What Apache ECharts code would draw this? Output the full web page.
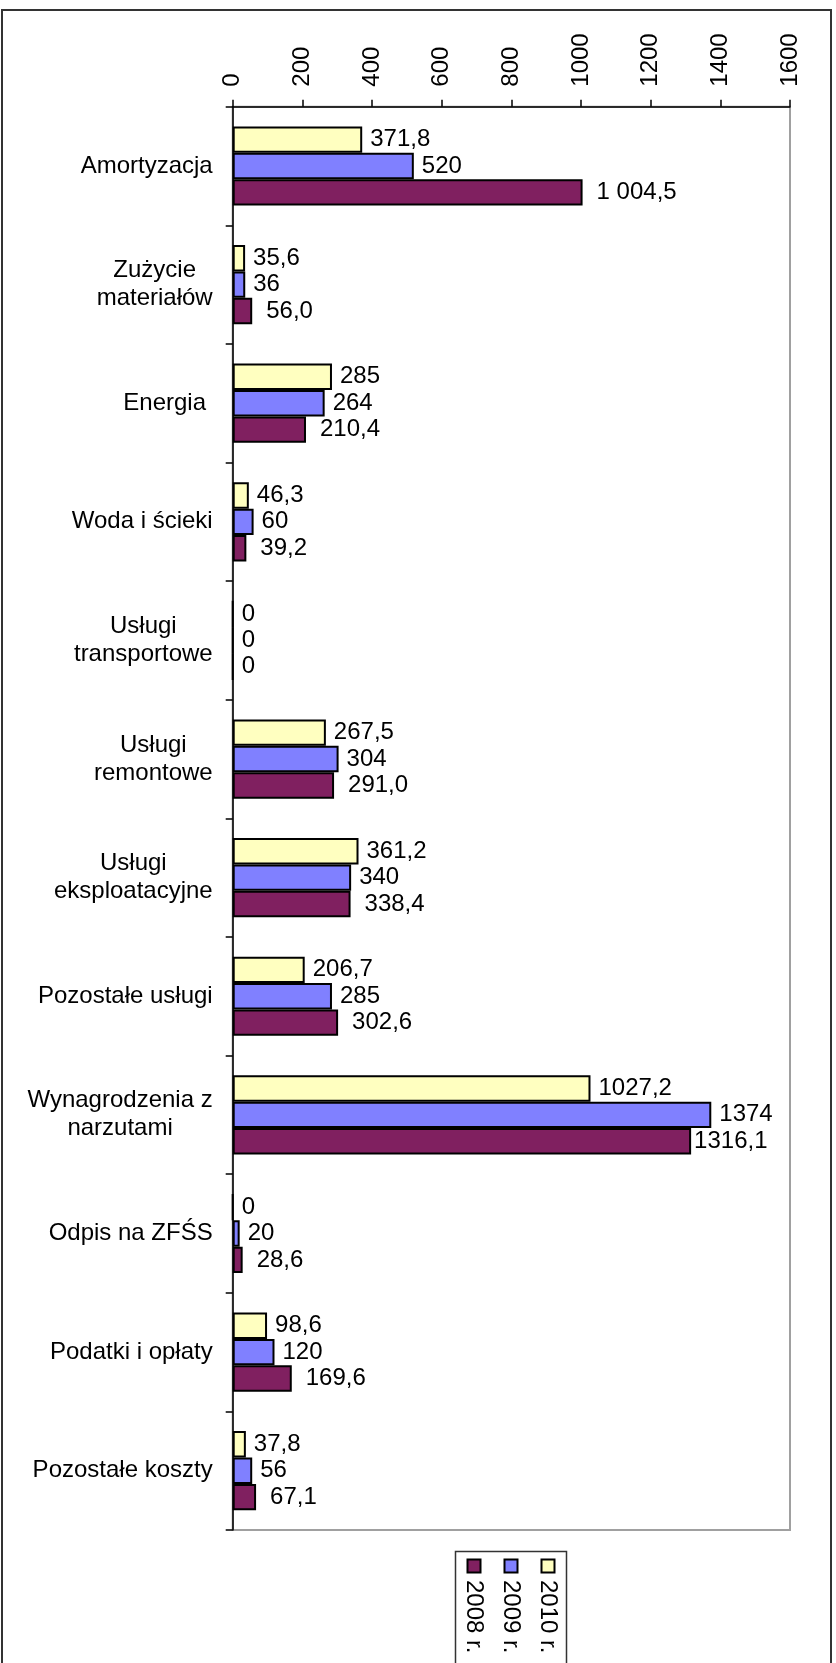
<!DOCTYPE html>
<html>
<head>
<meta charset="utf-8">
<script src="https://cdn.jsdelivr.net/npm/echarts@6/dist/echarts.min.js"></script>
<style>
  html, body { margin: 0; padding: 0; background: #fff; }
  #chart { width: 836px; height: 1663px; }
</style>
</head>
<body>
<div id="chart"></div>
<script>
// kategorie kosztów (od góry)
const categories = ['Amortyzacja', 'Zużycie\nmateriałów', 'Energia ', 'Woda i ścieki', 'Usługi\ntransportowe',
  'Usługi\nremontowe', 'Usługi\neksploatacyjne', 'Pozostałe usługi', 'Wynagrodzenia z\nnarzutami',
  'Odpis na ZFŚS', 'Podatki i opłaty', 'Pozostałe koszty']

const seriesNames = ['2010 r.', '2009 r.', '2008 r.']

const values2010 = [371.8, 35.6, 285, 46.3, 0, 267.5, 361.2, 206.7, 1027.2, 0, 98.6, 37.8]
const values2009 = [520, 36, 264, 60, 0, 304, 340, 285, 1374, 20, 120, 56]
const values2008 = [1004.5, 56.0, 210.4, 39.2, 0, 291.0, 338.4, 302.6, 1316.1, 28.6, 169.6, 67.1]

// etykiety 2008 (format z arkusza)
const labels2008 = ['1 004,5', '56,0', '210,4', '39,2', '0', '291,0', '338,4', '302,6', '1316,1', '28,6', '169,6', '67,1']

const xTicks = { min: 0, max: 1600, interval: 200 }

const colors = ['#FFFFC0', '#8080FF', '#802060']
const font = "'Liberation Sans', Arial, sans-serif"

;(function () {
  let myChart = echarts.init(document.getElementById('chart'))

  // zwykły format liczby z przecinkiem
  function fmt (params) {
    return String(params.value).replace('.', ',')
  }

  function makeSeries (idx, values, labelFn, distance) {
    return {
      name: seriesNames[idx],
      type: 'bar',
      barWidth: 26.4,
      barGap: '0%',
      data: values.map(function (v, i) {
        let item = { value: v }
        // 1316,1 przyklejone do słupka, zera przy osi
        if (idx === 2 && i === 8) item.label = { distance: 3 }
        if (v === 0) item.label = { distance: 8 }
        return item
      }),
      itemStyle: {
        color: colors[idx],
        borderColor: '#000',
        borderWidth: 2
      },
      label: {
        show: true,
        position: 'right',
        distance: distance,
        color: '#000',
        fontSize: 24,
        fontFamily: font,
        formatter: labelFn
      }
    }
  }

  // legenda rysowana ręcznie (tekst obrócony)
  let legendItems = []
  seriesNames.forEach(function (name, i) {
    let cx = 548 - i * 37
    legendItems.push({
      type: 'rect',
      shape: { x: cx - 6.5, y: 1559.5, width: 13, height: 13 },
      style: { fill: colors[i], stroke: '#000', lineWidth: 2 }
    })
    legendItems.push({
      type: 'text',
      x: cx,
      y: 1580,
      rotation: -Math.PI / 2,
      style: {
        text: name,
        fill: '#000',
        font: '24px ' + font,
        align: 'left',
        verticalAlign: 'middle'
      }
    })
  })

  let option = {
    animation: false,
    backgroundColor: '#fff',
    textStyle: { fontFamily: font },
    grid: {
      left: 232.7,
      right: 46,
      top: 106.7,
      bottom: 133,
      outerBoundsMode: 'none',
      show: true,
      borderColor: '#a0a0a0',
      borderWidth: 2
    },
    xAxis: {
      type: 'value',
      position: 'top',
      min: xTicks.min,
      max: xTicks.max,
      interval: xTicks.interval,
      axisLine: { show: true, lineStyle: { color: '#000', width: 1.5 } },
      axisTick: { show: true, length: 7, lineStyle: { color: '#000', width: 1.5 } },
      splitLine: { show: false },
      axisLabel: {
        rotate: -90,
        margin: 20,
        color: '#000',
        fontSize: 24,
        fontFamily: font,
        formatter: function (v) { return String(v) }
      }
    },
    yAxis: {
      type: 'category',
      inverse: true,
      data: categories,
      axisLine: { show: true, lineStyle: { color: '#000', width: 1.5 } },
      axisTick: { show: true, length: 7, lineStyle: { color: '#000', width: 1.5 } },
      axisLabel: {
        margin: 20,
        color: '#000',
        fontSize: 24,
        fontFamily: font,
        lineHeight: 28,
        formatter: function (v) {
          return '{c|' + v + '}'
        },
        rich: {
          c: { align: 'center', fontSize: 24, lineHeight: 28, fontFamily: font, color: '#000' }
        }
      }
    },
    series: [
      makeSeries(0, values2010, fmt, 8),
      makeSeries(1, values2009, fmt, 8),
      makeSeries(2, values2008, function (p) { return labels2008[p.dataIndex] }, 14)
    ],
    graphic: [
      {
        type: 'rect',
        shape: { x: 2, y: 10, width: 829, height: 1720 },
        style: { fill: 'none', stroke: '#333', lineWidth: 2 },
        silent: true
      },
      {
        type: 'rect',
        shape: { x: 455.5, y: 1551.5, width: 111, height: 200 },
        style: { fill: '#fff', stroke: '#333', lineWidth: 1.5 },
        silent: true
      }
    ].concat(legendItems)
  }

  myChart.setOption(option)

  window.addEventListener('resize', function () {
    myChart.resize()
  })
})();
</script>
</body>
</html>
